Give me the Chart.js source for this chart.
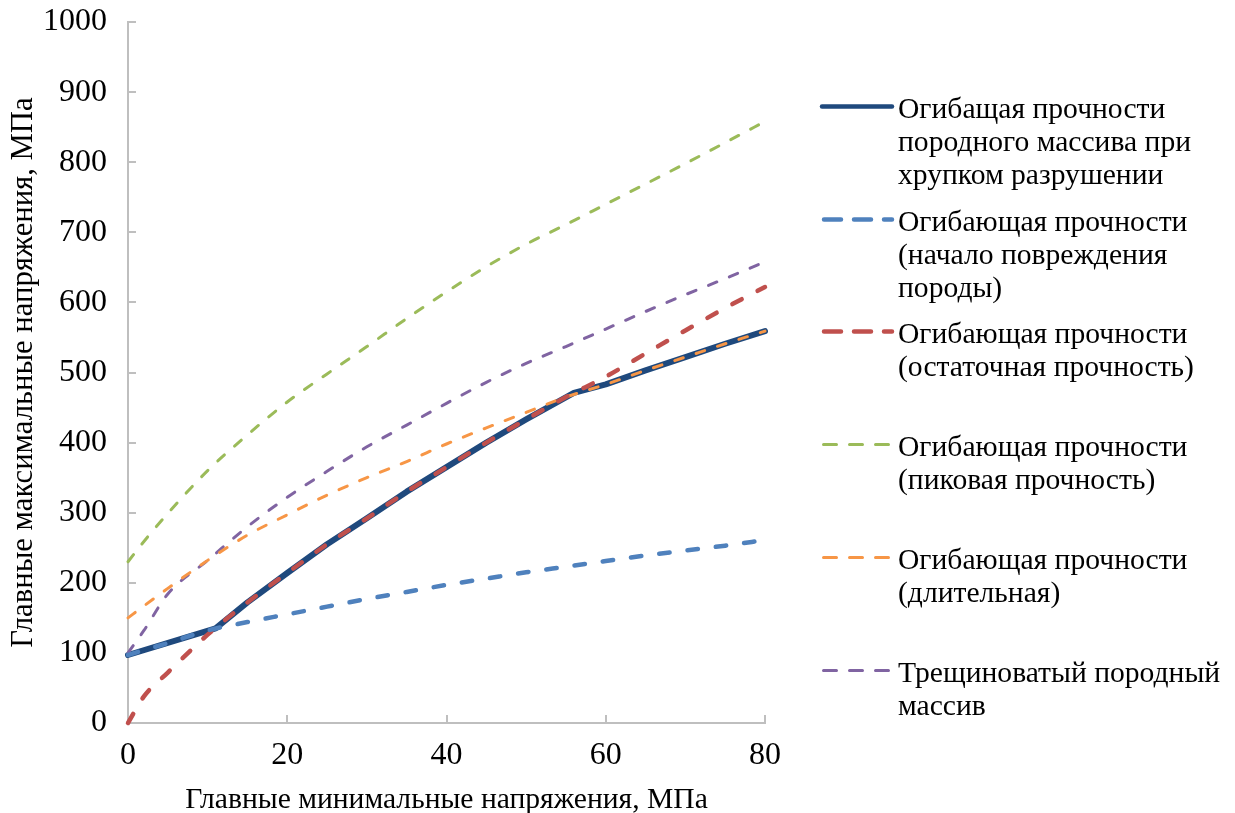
<!DOCTYPE html>
<html><head><meta charset="utf-8">
<script src="https://cdn.jsdelivr.net/npm/chart.js@4.4.1/dist/chart.umd.min.js"></script>
<style>
html,body{margin:0;padding:0;background:#fff;}
#wrap{position:relative;width:1235px;height:813px;overflow:hidden;background:#fff;}
#c{position:absolute;left:0;top:0;}
.item{position:absolute;left:0;width:1235px;height:110px;}
.item svg{position:absolute;left:815px;top:0;}
.item .txt{position:absolute;left:898px;top:0;white-space:nowrap;font-family:'Liberation Serif','Times New Roman',serif;font-size:29.6px;line-height:33px;color:#000;}
</style></head>
<body>
<div id="wrap"><canvas id="c" width="1235" height="813"></canvas></div>
<script>
// ---- data ----
const xTitle = 'Главные минимальные напряжения, МПа';
const yTitle = 'Главные максимальные напряжения, МПа';
const xTicks = [0, 20, 40, 60, 80];
const yTicks = [0, 100, 200, 300, 400, 500, 600, 700, 800, 900, 1000];

const seriesNames = [
  ['Огибащая прочности', 'породного массива при', 'хрупком разрушении'],
  ['Огибающая прочности', '(начало повреждения', 'породы)'],
  ['Огибающая прочности', '(остаточная прочность)'],
  ['Огибающая прочности', '(пиковая прочность)'],
  ['Огибающая прочности', '(длительная)'],
  ['Трещиноватый породный', 'массив']
];

// envelope of the rock mass (brittle failure)
const envX = [0, 11, 15, 20, 25, 30, 35, 40, 45, 50, 56, 60, 65, 70, 75, 80];
const envY = [97, 135, 172, 214, 255, 292, 330, 365, 400, 433, 471, 483, 503, 522, 541, 559];

// common sigma3 values for the other envelopes
const sigma3 = [0, 2, 5, 10, 15, 20, 25, 30, 35, 40, 45, 50, 55, 60, 65, 70, 75, 80];
const damageOnset = [97, 104, 114, 132, 144, 155, 166, 177, 187, 197, 206, 215, 223, 231, 239, 246, 253, 261];
const residual    = [0, 38, 72, 126, 172, 214, 255, 292, 330, 365, 400, 433, 465, 494, 527, 560, 592, 622];
const peak        = [230, 259, 299, 360, 411, 458, 498, 537, 577, 615, 651, 683, 711, 740, 769, 798, 828, 858];
const longTerm    = [150, 167, 192, 232, 268, 297, 325, 350, 373, 398, 421, 443, 465, 483, 503, 522, 541, 559];
const fractured   = [100, 132, 184, 232, 280, 322, 359, 394, 425, 456, 486, 513, 537, 562, 587, 611, 634, 658];

// ---- styles ----
const FONT = "'Liberation Serif', 'Times New Roman', serif";
const colors = ['#1F497D', '#4F81BD', '#C0504D', '#9BBB59', '#F79646', '#8064A2'];
const widths = [6, 4.5, 4.5, 3, 3, 3];
const dashes = [[], [10.5, 18], [10.5, 18], [9, 13.5], [9, 13.5], [9, 13.5]];

const pts = (xs, ys) => xs.map((x, i) => ({x: x, y: ys[i]}));
const seriesData = [pts(envX, envY), pts(sigma3, damageOnset), pts(sigma3, residual),
                    pts(sigma3, peak), pts(sigma3, longTerm), pts(sigma3, fractured)];

const datasets = seriesData.map((d, i) => ({
  label: seriesNames[i].join(' '),
  data: d,
  borderColor: colors[i],
  backgroundColor: colors[i],
  borderWidth: widths[i],
  borderDash: dashes[i],
  borderCapStyle: 'round',
  borderJoinStyle: 'round',
  pointRadius: 0,
  fill: false,
  clip: 8,
  tension: 0,
  cubicInterpolationMode: i === 0 ? 'default' : 'monotone',
  order: i === 0 ? 1 : 0
}));

const innerTicks = {
  id: 'innerTicks',
  beforeDatasetsDraw(chart) {
    const {ctx, chartArea, scales} = chart;
    ctx.save();
    ctx.strokeStyle = '#BFBFBF';
    ctx.lineWidth = 2;
    ctx.beginPath();
    scales.y.ticks.forEach(t => {
      const py = Math.round(scales.y.getPixelForValue(t.value));
      ctx.moveTo(chartArea.left, py);
      ctx.lineTo(chartArea.left + 8, py);
    });
    scales.x.ticks.forEach(t => {
      if (t.value === 0) return;
      const px = Math.round(scales.x.getPixelForValue(t.value));
      ctx.moveTo(px, chartArea.bottom);
      ctx.lineTo(px, chartArea.bottom - 8);
    });
    ctx.stroke();
    ctx.restore();
  }
};

new Chart(document.getElementById('c'), {
  type: 'line',
  data: {datasets: datasets},
  options: {
    responsive: false,
    animation: false,
    devicePixelRatio: 1,
    layout: {padding: {top: 22, right: 470, bottom: 0, left: 0}},
    plugins: {legend: {display: false}, tooltip: {enabled: false}},
    scales: {
      x: {
        type: 'linear', min: 0, max: 80,
        afterBuildTicks(s) { s.ticks = xTicks.map(v => ({value: v})); },
        ticks: {padding: 13, font: {family: FONT, size: 32}, color: '#000', callback: v => String(v)},
        grid: {display: false, drawTicks: false},
        border: {display: true, color: '#BFBFBF', width: 2},
        title: {display: true, text: xTitle, color: '#000', font: {family: FONT, size: 29.6, lineHeight: 1}, padding: {top: 0, bottom: -2}},
        afterFit(s) { s.height = 90; s.paddingLeft = 0; s.paddingRight = 0; }
      },
      y: {
        type: 'linear', min: 0, max: 1000,
        afterBuildTicks(s) { s.ticks = yTicks.map(v => ({value: v})); },
        ticks: {padding: 21, font: {family: FONT, size: 32}, color: '#000', callback: v => String(v)},
        grid: {display: false, drawTicks: false},
        border: {display: true, color: '#BFBFBF', width: 2},
        title: {display: true, text: yTitle, color: '#000', font: {family: FONT, size: 30.7, lineHeight: 1}, padding: {top: 9, bottom: 0}},
        afterFit(s) { s.width = 128; s.paddingTop = 0; s.paddingBottom = 0; }
      }
    }
  },
  plugins: [innerTicks]
});

// ---- legend (HTML) ----
const sampleY = [106.7, 219, 331.7, 444, 557.7, 670];
const wrap = document.getElementById('wrap');
seriesNames.forEach((lines, i) => {
  const top = sampleY[i] - 14.5;
  const item = document.createElement('div');
  item.className = 'item';
  item.style.top = top + 'px';
  const sy = 14.5;
  let svg;
  if (i === 0) {
    svg = `<svg width="80" height="30"><line x1="7" y1="${sy}" x2="77" y2="${sy}" stroke="${colors[i]}" stroke-width="4.5" stroke-linecap="round"/></svg>`;
  } else if (i <= 2) {
    svg = `<svg width="80" height="30"><line x1="9" y1="${sy}" x2="77" y2="${sy}" stroke="${colors[i]}" stroke-width="4.5" stroke-linecap="round" stroke-dasharray="17 13"/></svg>`;
  } else {
    svg = `<svg width="80" height="30"><line x1="8.5" y1="${sy}" x2="77" y2="${sy}" stroke="${colors[i]}" stroke-width="3" stroke-linecap="round" stroke-dasharray="13 13"/></svg>`;
  }
  item.innerHTML = svg + `<div class="txt">${lines.join('<br>')}</div>`;
  wrap.appendChild(item);
});
</script>
</body></html>
